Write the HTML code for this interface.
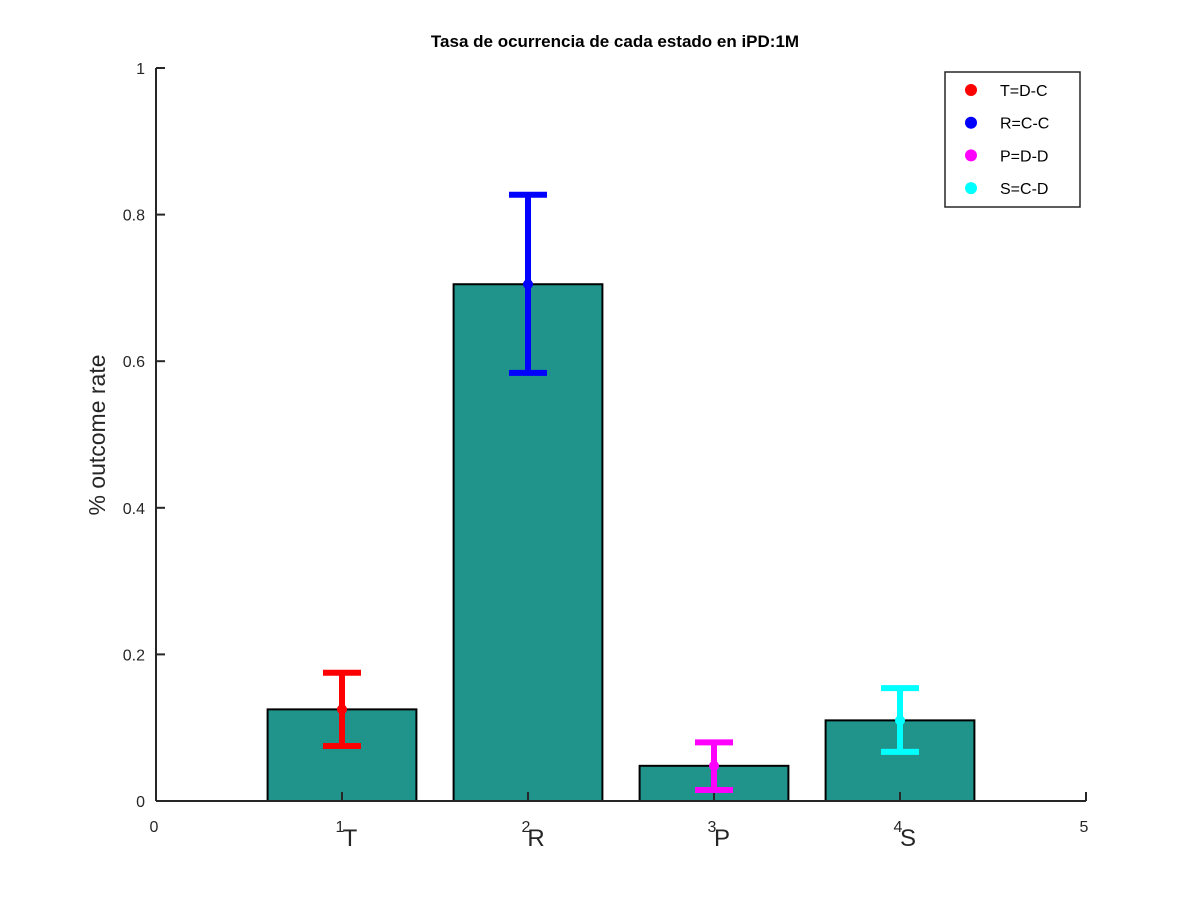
<!DOCTYPE html>
<html><head><meta charset="utf-8"><style>body{margin:0;background:#fff}svg{display:block;font-family:"Liberation Sans",sans-serif}</style></head>
<body>
<svg id="chart" width="1200" height="900">
<rect width="1200" height="900" fill="#fff"/>
<text x="615" y="47" text-anchor="middle" font-size="17" font-weight="bold" fill="#000">Tasa de ocurrencia de cada estado en iPD:1M</text>
<text transform="translate(105,435) rotate(-90)" text-anchor="middle" font-size="23" fill="#262626">% outcome rate</text>
<g id="bars"></g><g id="axes"></g><g id="errs"></g>
<g>
<rect x="945" y="72" width="135" height="135" fill="#fff" stroke="#262626" stroke-width="1.5"/>
<g id="leg"></g>
</g>
</svg>
<script>
const categories=['T','R','P','S'];
const legendLabels=['T=D-C','R=C-C','P=D-D','S=C-D'];
const colors=['#ff0000','#0000ff','#ff00ff','#00ffff'];
const means=[0.125,0.705,0.048,0.11];
const lower=[0.075,0.584,0.015,0.067];
const upper=[0.175,0.827,0.080,0.154];
const yTicks=[0,0.2,0.4,0.6,0.8,1];
const xTicks=[0,1,2,3,4,5];
const NS='http://www.w3.org/2000/svg';
const X=v=>156+v*186, Y=v=>801-v*733;
function mk(p,t,a){const e=document.createElementNS(NS,t);for(const k in a)e.setAttribute(k,a[k]);document.getElementById(p).appendChild(e);return e;}
means.forEach((m,i)=>{
 const r=mk('bars','rect',{x:X(i+1-0.4),y:Y(m),width:X(0.8)-X(0),height:Y(0)-Y(m),fill:'#20948b',stroke:'#000','stroke-width':2});
 
 
 const g=mk('errs','g',{});
 
 
 const cx=X(i+1),c=colors[i];
 g.innerHTML=`<line x1="${cx}" x2="${cx}" y1="${Y(lower[i])}" y2="${Y(upper[i])}" stroke="${c}" stroke-width="6"/>
 <line x1="${cx-19}" x2="${cx+19}" y1="${Y(lower[i])}" y2="${Y(lower[i])}" stroke="${c}" stroke-width="6"/>
 <line x1="${cx-19}" x2="${cx+19}" y1="${Y(upper[i])}" y2="${Y(upper[i])}" stroke="${c}" stroke-width="6"/>
 <circle cx="${cx}" cy="${Y(means[i])}" r="5" fill="${c}"/>`;
 const t=mk('axes','text',{x:cx+8,y:846,'text-anchor':'middle','font-size':24,fill:'#262626'});
 t.textContent=categories[i];
 
 
 const ly=90+i*32.7;
 mk('leg','circle',{cx:971,cy:ly,r:6,fill:c});
 const lt=mk('leg','text',{x:1000,y:ly+6,'font-size':16,fill:'#000'});
 lt.textContent=legendLabels[i];
 
 
});
mk('axes','line',{x1:156,x2:156,y1:Y(1),y2:Y(0),stroke:'#262626','stroke-width':2});
mk('axes','line',{x1:156,x2:1086,y1:Y(0),y2:Y(0),stroke:'#262626','stroke-width':2});
yTicks.forEach(v=>{
 mk('axes','line',{x1:156,x2:165,y1:Y(v),y2:Y(v),stroke:'#262626','stroke-width':2});
 const t=mk('axes','text',{x:145,y:Y(v)+6,'text-anchor':'end','font-size':16,fill:'#262626'});
 t.textContent=v===0?'0':v===1?'1':v.toFixed(1);
 
 
});
xTicks.forEach(v=>{
 mk('axes','line',{x1:X(v),x2:X(v),y1:Y(0),y2:Y(0)-9,stroke:'#262626','stroke-width':2});
 const t=mk('axes','text',{x:X(v)-2,y:832,'text-anchor':'middle','font-size':16,fill:'#262626'});
 t.textContent=v;
 
 
});
</script>
</body></html>
